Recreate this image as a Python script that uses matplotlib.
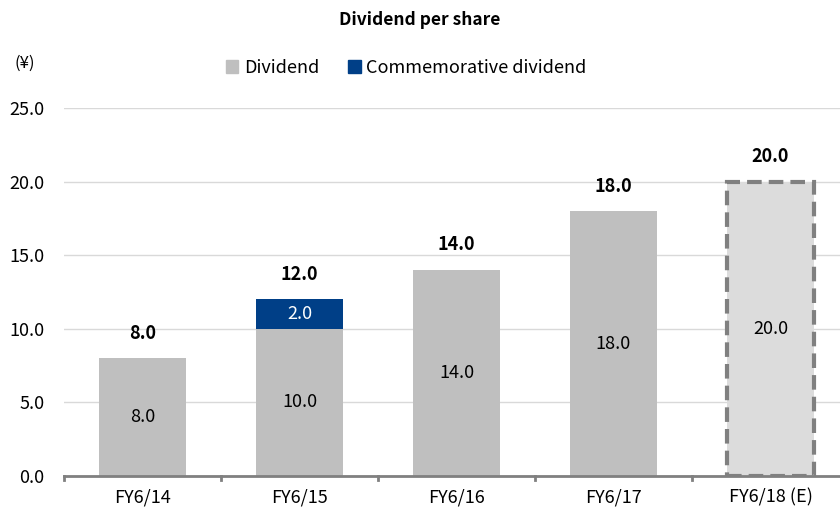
import matplotlib.pyplot as plt
from matplotlib.patches import Patch

plt.rcParams['font.family'] = ['Noto Sans CJK JP', 'DejaVu Sans']

categories = ['FY6/14', 'FY6/15', 'FY6/16', 'FY6/17', 'FY6/18 (E)']
dividend = [8.0, 10.0, 14.0, 18.0, 20.0]
commemorative = [0.0, 2.0, 0.0, 0.0, 0.0]
estimate = [False, False, False, False, True]

fig = plt.figure(figsize=(8.4, 5.13), dpi=100)
ax = fig.add_axes([64 / 840, 1 - 476 / 513, 1 - 64 / 840, (476 - 108) / 513])

x = list(range(len(categories)))
totals = [d + c for d, c in zip(dividend, commemorative)]
fs = 13

for i in x:
    if estimate[i]:
        ax.bar(i, dividend[i], 0.55, color='#DCDCDC', edgecolor='#808080',
               linewidth=3, linestyle=(0, (3.5, 1.7)), zorder=3)
    else:
        ax.bar(i, dividend[i], 0.55, color='#BFBFBF', zorder=3)
    ax.text(i, dividend[i] / 2, f'{dividend[i]:.1f}', ha='center', va='center',
            fontsize=fs, zorder=4)
    if commemorative[i] > 0:
        ax.bar(i, commemorative[i], 0.55, bottom=dividend[i], color='#003F87', zorder=3)
        ax.text(i, dividend[i] + commemorative[i] / 2, f'{commemorative[i]:.1f}',
                ha='center', va='center', fontsize=fs, color='white', zorder=4)
    ax.annotate(f'{totals[i]:.1f}', (i, totals[i]), xytext=(0, 18), textcoords='offset points',
                ha='center', va='center', fontsize=fs, fontweight='bold')

ax.set_xlim(-0.5, 4.443)
ax.set_ylim(0, 25)
ax.set_yticks([0, 5, 10, 15, 20, 25])
ax.set_yticklabels([f'{v:.1f}' for v in [0, 5, 10, 15, 20, 25]], fontsize=fs)
ax.grid(axis='y', color='#D9D9D9', linewidth=1, zorder=0)
ax.set_xticks(x)
ax.set_xticklabels(categories, fontsize=fs)
ax.tick_params(axis='x', length=0, pad=9)
ax.tick_params(axis='y', length=0, pad=14)
for i in range(len(categories) + 1):
    ax.plot([i - 0.5, i - 0.5], [0, -0.3], color='#808080', linewidth=2, clip_on=False, zorder=5)
for s in ['top', 'right', 'left']:
    ax.spines[s].set_visible(False)
ax.spines['bottom'].set_color('#808080')
ax.spines['bottom'].set_linewidth(2)
ax.spines['bottom'].set_zorder(5)

fig.text(420 / 840, 1 - 20 / 513, 'Dividend per share', ha='center', va='center',
         fontsize=12.5, fontweight='bold')
fig.text(25 / 840, 1 - 63 / 513, '(¥)', ha='center', va='center', fontsize=12)
handles = [Patch(color='#BFBFBF'), Patch(color='#003F87')]
fig.legend(handles, ['Dividend', 'Commemorative dividend'], loc='center',
           bbox_to_anchor=(406 / 840, 1 - 68 / 513), ncol=2, frameon=False,
           fontsize=fs, handlelength=0.7, handleheight=0.7, handletextpad=0.3,
           columnspacing=1.6)

fig.savefig('out.png', dpi=100)
